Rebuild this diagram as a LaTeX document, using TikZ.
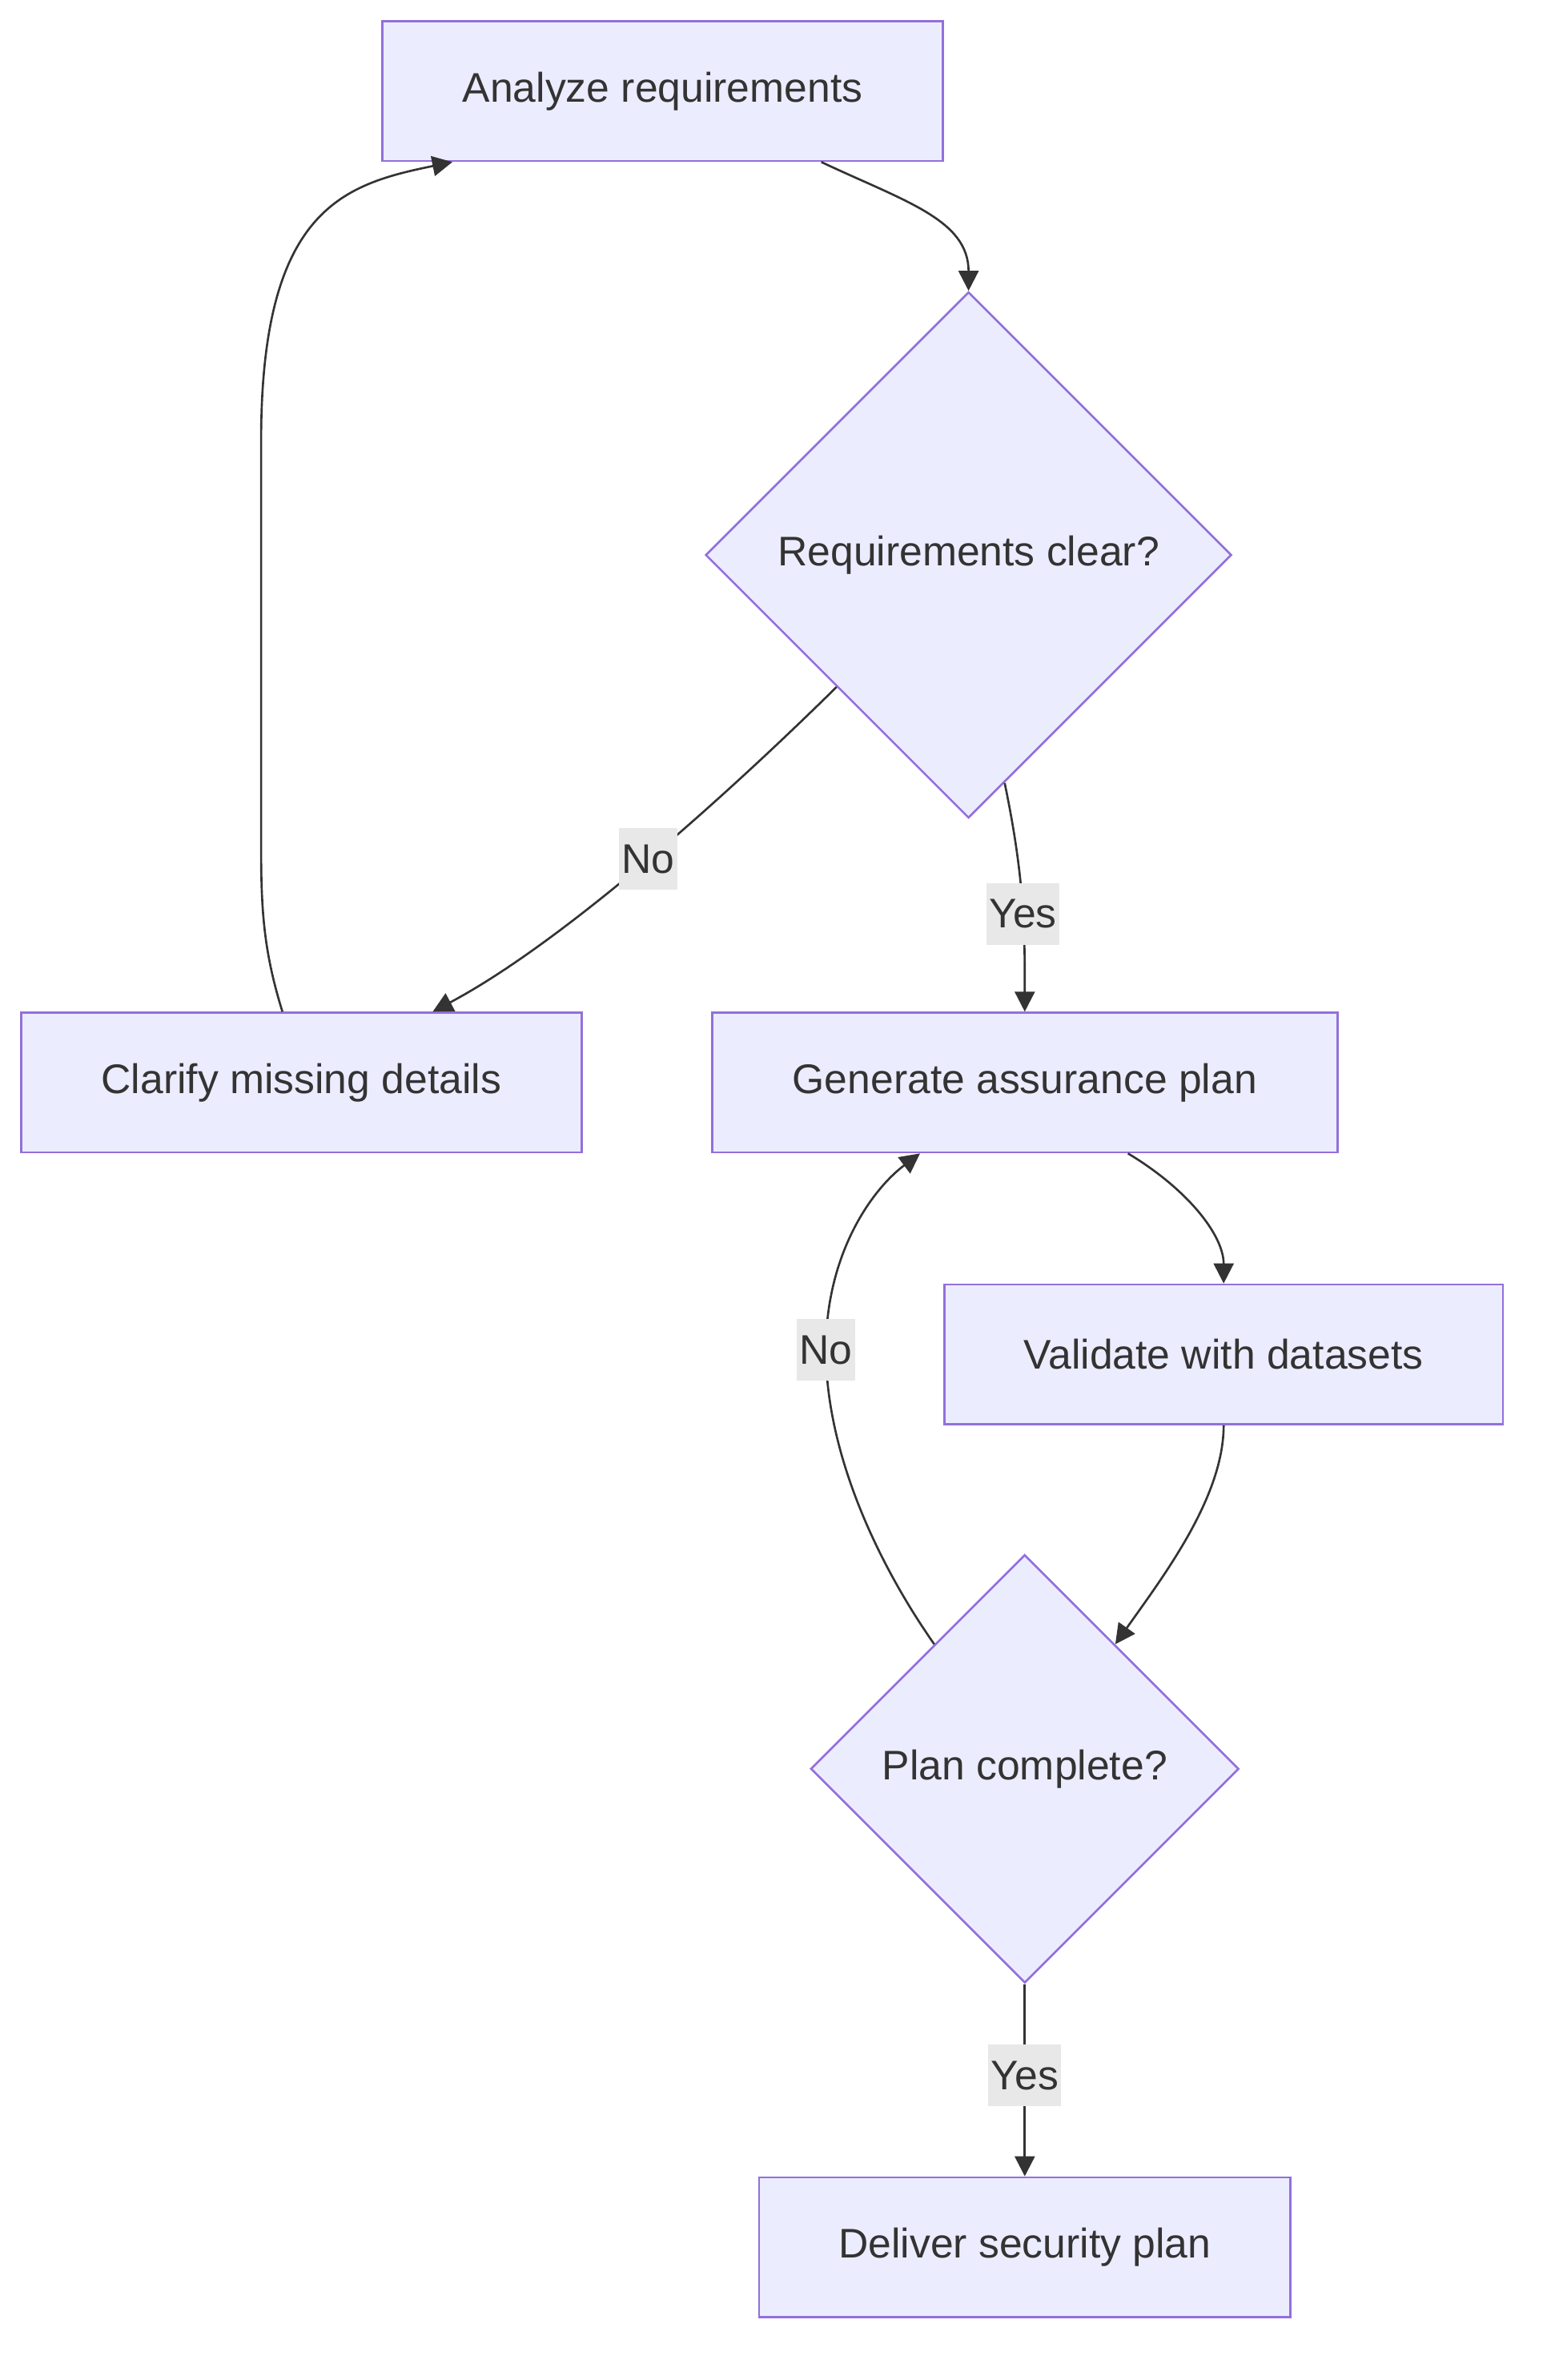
\documentclass[tikz,border=0pt]{standalone}
\usepackage{fontspec}
\setmainfont{Liberation Sans}
\usepackage{tikz}
\usetikzlibrary{shapes.geometric,arrows.meta,positioning}
\definecolor{nodefill}{HTML}{ECECFF}
\definecolor{nodeline}{HTML}{9370DB}
\definecolor{edgegray}{HTML}{333333}
\definecolor{lblgray}{HTML}{E8E8E8}

\begin{document}
\begin{tikzpicture}[
  font=\fontsize{14.7}{17.6}\selectfont,
  box/.style={rectangle, draw=nodeline, fill=nodefill, line width=0.75pt,
              text=edgegray, minimum height=1.744cm, inner sep=0pt, align=center},
  dbox/.style={diamond, draw=nodeline, fill=nodefill, line width=0.75pt,
               text=edgegray, inner sep=0pt, align=center},
  arr/.style={-{Triangle[length=0.25cm,width=0.25cm]}, line width=0.75pt, edgegray},
  lbl/.style={fill=lblgray, text=edgegray, inner xsep=1pt, inner ysep=0pt,
              minimum height=0.77cm}
]
\useasboundingbox (0,0) rectangle (19.36,-29.72);
\node[box, minimum width=6.996cm] (anlz) at (8.276,-1.138) {Analyze requirements};
\node[dbox, minimum width=6.57cm, minimum height=6.57cm] (rqcl) at (12.096,-6.930) {Requirements clear?};
\node[box, minimum width=6.996cm] (clar) at (3.764,-13.518) {Clarify missing details};
\node[box, minimum width=7.812cm] (genp) at (12.798,-13.518) {Generate assurance plan};
\node[box, minimum width=6.977cm] (vald) at (15.282,-16.912) {Validate with datasets};
\node[dbox, minimum width=5.347cm, minimum height=5.347cm] (plnc) at (12.798,-22.088) {Plan complete?};
\node[box, minimum width=6.636cm] (dlvr) at (12.798,-28.061) {Deliver security plan};
\draw[arr] ([xshift=1.981cm]anlz.south) .. controls +(1.04,-0.49) and +(0,0.89) .. (rqcl.north);
\draw[arr] (rqcl.south west) .. controls +(-1.43,-1.41) and +(1.6,0.85) .. ([xshift=1.640cm]clar.north)
  node[lbl, pos=0.48]{No};
\draw[arr] (rqcl.-81) .. controls +(0.25,-1.2) and +(0,1.0) .. (genp.north) node[lbl, pos=0.55]{Yes};
\draw[arr] ([xshift=-0.237cm]clar.north) .. controls (3.30,-11.9) and (3.261,-11.4) .. (3.261,-10.6)
  -- (3.261,-5.5) .. controls (3.261,-2.6) and (4.3,-2.3) .. ([xshift=-2.626cm]anlz.south);
\draw[arr] ([xshift=1.289cm]genp.south) .. controls +(0.75,-0.45) and +(0,0.6) .. (vald.north);
\draw[arr] (vald.south) .. controls +(0,-0.9) and +(0.6,0.85) .. (plnc.54);
\draw[arr] (plnc.126) .. controls +(-0.7,1.0) and +(0,-1.3) .. (10.314,-16.855) node[lbl]{No}
  .. controls +(0,1.2) and +(-0.6,-0.45) .. ([xshift=-1.308cm]genp.south);
\draw[arr] (plnc.south) -- node[lbl, pos=0.476]{Yes} (dlvr.north);
\end{tikzpicture}
\end{document}
